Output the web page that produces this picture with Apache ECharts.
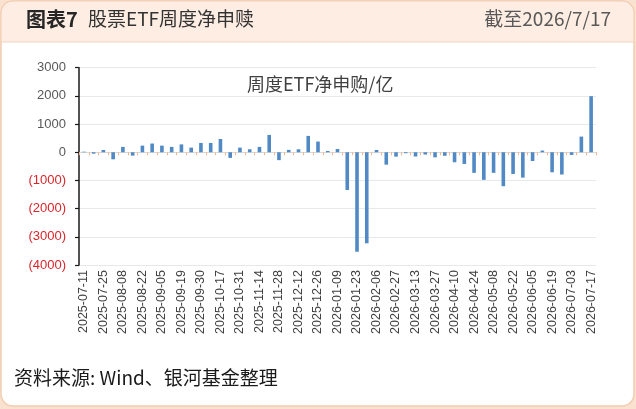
<!DOCTYPE html>
<html lang="zh-CN">
<head>
    <meta charset="UTF-8">
    <title>股票ETF周度净申赎</title>
    <script src="https://cdn.jsdelivr.net/npm/echarts@6/dist/echarts.min.js"></script>
    <style>
        html, body { margin: 0; padding: 0; background: #f9e2d0; }
        #container { width: 636px; height: 409px; }
    </style>
</head>
<body>
    <div id="container"></div>
    <script type="text/javascript">
        // weekly dates (Friday or last trading day of the week)
        var weeks = [
            '2025-07-11', '2025-07-18', '2025-07-25', '2025-08-01', '2025-08-08', '2025-08-15',
            '2025-08-22', '2025-08-29', '2025-09-05', '2025-09-12', '2025-09-19', '2025-09-26',
            '2025-09-30', '2025-10-10', '2025-10-17', '2025-10-24', '2025-10-31', '2025-11-07',
            '2025-11-14', '2025-11-21', '2025-11-28', '2025-12-05', '2025-12-12', '2025-12-19',
            '2025-12-26', '2026-01-02', '2026-01-09', '2026-01-16', '2026-01-23', '2026-01-30',
            '2026-02-06', '2026-02-13', '2026-02-27', '2026-03-06', '2026-03-13', '2026-03-20',
            '2026-03-27', '2026-04-03', '2026-04-10', '2026-04-17', '2026-04-24', '2026-04-30',
            '2026-05-08', '2026-05-15', '2026-05-22', '2026-05-29', '2026-06-05', '2026-06-12',
            '2026-06-19', '2026-06-26', '2026-07-03', '2026-07-10', '2026-07-17'
        ];
        // net subscription, 100 million CNY
        var netFlow = [
            20, -50, 80, -250, 190, -120,
            235, 310, 235, 190, 280, 165,
            330, 330, 470, -200, 165, 105,
            190, 615, -280, 85, 105, 580,
            380, 45, 115, -1340, -3530, -3230,
            80, -440, -155, -35, -150, -80,
            -180, -125, -355, -415, -730, -980,
            -730, -1205, -770, -900, -310, 60,
            -710, -790, -95, 555, 1990
        ];
        var yMin = -4000, yMax = 3000, yStep = 1000;

        var cjk = '"Noto Sans CJK SC", "Noto Sans", sans-serif';
        var latin = '"Liberation Sans", Arial, sans-serif';
        var myChart = echarts.init(document.getElementById('container'), null, { renderer: 'canvas' });

        var option = {
            backgroundColor: '#f9e2d0',
            animation: false,
            textStyle: { fontFamily: cjk },
            graphic: [
                {   // card
                    type: 'rect', z: -10, silent: true,
                    shape: { x: 1, y: 1, width: 633, height: 405, r: 12 },
                    style: { fill: '#ffffff', stroke: '#f2cdb2', lineWidth: 1.5 }
                },
                {   // header band
                    type: 'rect', z: -9, silent: true,
                    shape: { x: 1.8, y: 1.8, width: 631.4, height: 40, r: [11, 11, 0, 0] },
                    style: { fill: '#fdede2' }
                },
                {
                    type: 'line', z: -8, silent: true,
                    shape: { x1: 1.8, y1: 42, x2: 633.2, y2: 42 },
                    style: { stroke: '#f3d3bc', lineWidth: 1 }
                },
                {
                    type: 'text', left: 26, top: 9,
                    style: { text: '图表7', font: 'bold 20px ' + cjk, fill: '#262626' }
                },
                {
                    type: 'text', left: 88, top: 9,
                    style: { text: '股票ETF周度净申赎', font: '19px ' + cjk, fill: '#333333' }
                },
                {
                    type: 'text', right: 25, top: 9,
                    style: { text: '截至2026/7/17', font: '19px ' + cjk, fill: '#595959' }
                },
                {
                    type: 'text', left: 14, top: 368,
                    style: { text: '资料来源: Wind、银河基金整理', font: '19px ' + cjk, fill: '#1a1a1a' }
                }
            ],
            title: {
                text: '周度ETF净申购/亿',
                left: 242, top: 70,
                textStyle: { fontSize: 18, fontWeight: 'normal', color: '#404040', fontFamily: cjk }
            },
            grid: { left: 79, right: 40, top: 67.7, bottom: 144, containLabel: false },
            xAxis: [
                {   // zero line with boundary ticks
                    type: 'category', data: weeks,
                    axisLine: { onZero: true, lineStyle: { color: '#d9d9d9', width: 1 } },
                    axisTick: { show: true, interval: 0, length: 3, lineStyle: { color: '#f2b48a' } },
                    axisLabel: { show: false },
                    splitLine: { show: false }
                },
                {   // date labels at the bottom
                    type: 'category', data: weeks, position: 'bottom',
                    axisLine: { show: false, onZero: false },
                    axisTick: { show: false },
                    axisLabel: {
                        interval: 1, rotate: 90, margin: 5,
                        fontSize: 12.5, color: '#404040', fontFamily: latin
                    }
                }
            ],
            yAxis: {
                type: 'value', min: yMin, max: yMax, interval: yStep,
                axisLine: { show: true, lineStyle: { color: '#1a1a1a', width: 1.5 } },
                axisTick: { show: true, length: 4, lineStyle: { color: '#1a1a1a', width: 1.2 } },
                splitLine: { lineStyle: { color: '#e8e8e8', width: 1 } },
                axisLabel: {
                    margin: 13,
                    fontSize: 13,
                    fontFamily: latin,
                    formatter: function (v) {
                        return v < 0 ? '{neg|(' + Math.abs(v) + ')}' : '{pos|' + v + '}';
                    },
                    rich: {
                        pos: { color: '#595959', fontSize: 13, fontFamily: latin },
                        neg: { color: '#d9262b', fontSize: 13, fontFamily: latin }
                    }
                }
            },
            series: [
                {
                    name: '周度ETF净申购',
                    type: 'bar',
                    xAxisIndex: 0,
                    data: netFlow,
                    barWidth: 3.6,
                    itemStyle: { color: '#5089c4' }
                }
            ]
        };

        myChart.setOption(option);
        window.addEventListener('resize', myChart.resize);
    </script>
</body>
</html>
